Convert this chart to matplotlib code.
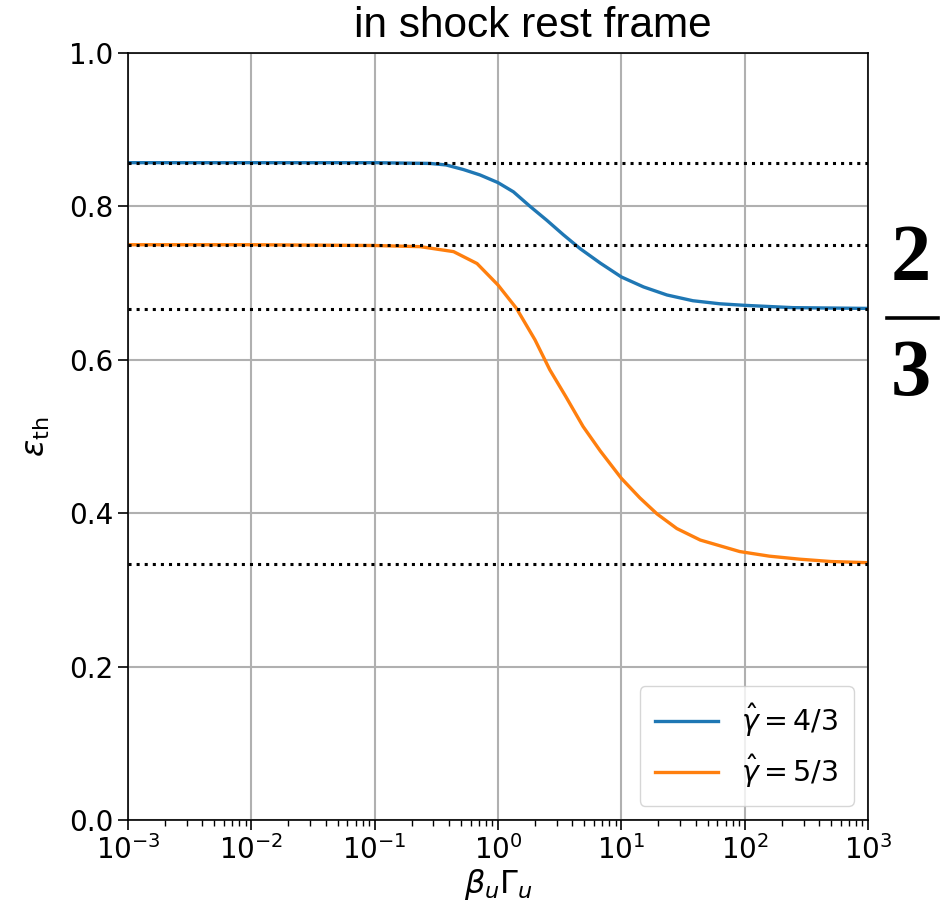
import matplotlib
matplotlib.use("Agg")
import matplotlib.pyplot as plt
import numpy as np
from matplotlib.lines import Line2D

# values; x given as log10(beta_u * Gamma_u)
logx_soft = [-3, -2, -1, -0.55, -0.42, -0.28, -0.146, 0.0, 0.125, 0.26,
             0.395, 0.53, 0.665, 0.83, 1.0, 1.18, 1.37, 1.58, 1.8, 2.0,
             2.39, 3.0]
eps_soft = [0.857, 0.857, 0.857, 0.856, 0.854, 0.848, 0.841, 0.831, 0.819,
            0.800, 0.782, 0.763, 0.745, 0.726, 0.708, 0.695, 0.6845, 0.677,
            0.673, 0.671, 0.668, 0.667]

logx_stiff = [-3, -2, -1, -0.63, -0.36, -0.17, 0.0, 0.15, 0.30, 0.42, 0.55,
              0.69, 0.83, 1.0, 1.15, 1.29, 1.45, 1.64, 1.96, 2.2, 2.45, 2.7,
              3.0]
eps_stiff = [0.750, 0.750, 0.749, 0.7475, 0.741, 0.7255, 0.6975, 0.667,
             0.626, 0.587, 0.552, 0.513, 0.481, 0.4455, 0.42, 0.399, 0.38,
             0.365, 0.350, 0.344, 0.340, 0.337, 0.3355]

limits = [6 / 7, 3 / 4, 2 / 3, 1 / 3]
labels = [r"$\hat{\gamma} = 4/3$", r"$\hat{\gamma} = 5/3$"]
colors = ["#1f77b4", "#ff7f0e"]

fig = plt.figure(figsize=(9.5, 9.15), dpi=100)
ax = fig.add_axes([0.1347, 0.1038, 0.779, 0.8383])

for lim in limits:
    ax.axhline(lim, color="k", ls=":", lw=2.2, zorder=3)
ax.plot(np.power(10.0, logx_soft), eps_soft, color=colors[0], lw=2.4,
        solid_joinstyle="round", zorder=2)
ax.plot(np.power(10.0, logx_stiff), eps_stiff, color=colors[1], lw=2.4,
        solid_joinstyle="round", zorder=2)

ax.set_xscale("log")
ax.set_xlim(1e-3, 1e3)
ax.set_ylim(0, 1)
ax.set_yticks([0.0, 0.2, 0.4, 0.6, 0.8, 1.0])
ax.grid(True, color="#b0b0b0", lw=1.5)
ax.tick_params(axis="both", which="major", labelsize=20, length=7, width=1.2)
ax.tick_params(axis="x", which="minor", length=4, width=1.0)
for sp in ax.spines.values():
    sp.set_linewidth(1.2)

ax.set_xlabel(r"$\beta_u\Gamma_u$", fontsize=23, labelpad=2)
ax.set_ylabel(r"$\varepsilon_{\rm th}$", fontsize=23, labelpad=12)

handles = [Line2D([], [], color=c, lw=2.4) for c in colors]
ax.legend(handles, labels, loc="lower right", fontsize=20.5,
          handlelength=2.2, borderpad=0.55, labelspacing=0.5,
          borderaxespad=0.5)

fig.text(0.561, 0.972, "in shock rest frame", fontsize=30.5,
         family="Liberation Sans", ha="center", va="center")

fig.text(0.959, 0.694, "2", fontsize=58, family="Liberation Serif",
         weight="bold", ha="center", va="baseline")
fig.text(0.959, 0.568, "3", fontsize=58, family="Liberation Serif",
         weight="bold", ha="center", va="baseline")
fig.add_artist(Line2D([0.934, 0.987], [0.6525, 0.6525], color="k", lw=2.6,
                      transform=fig.transFigure))

fig.savefig("out.png", dpi=100)
